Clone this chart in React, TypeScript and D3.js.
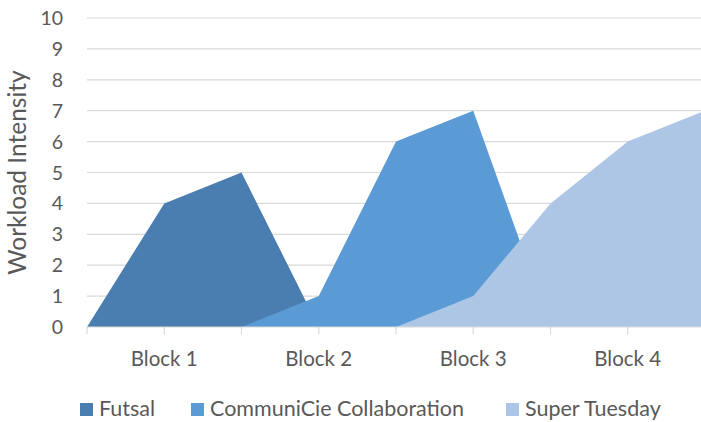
import React, { useRef, useEffect } from "react";
import * as d3 from "d3";

// x positions 0..8, block labels sit on the odd ones
const blocks = ["Block 1", "Block 2", "Block 3", "Block 4"];
const yTicks = [0, 1, 2, 3, 4, 5, 6, 7, 8, 9, 10];
const seriesNames = ["Futsal", "CommuniCie Collaboration", "Super Tuesday"];
const futsal = [0, 4, 5, 0, 0, 0, 0, 0, 0];
const communicie = [0, 0, 0, 1, 6, 7, 0, 0, 0];
const superTuesday = [0, 0, 0, 0, 0, 1, 4, 6, 7];
const colors = ["#4a7eb0", "#5b9bd5", "#adc6e6"];

const FONT = "Lato, 'Open Sans', sans-serif";

const App = () => {
  const svgRef = useRef<SVGSVGElement>(null);

  useEffect(() => {
    const width = 701;
    const height = 422;
    const svg = d3.select(svgRef.current).attr("width", width).attr("height", height);
    svg.selectAll("*").remove();

    const x = d3.scaleLinear().domain([0, 8]).range([87, 705]);
    const y = d3.scaleLinear().domain([0, 10]).range([327, 18]);

    // gridlines
    svg.append("g")
      .selectAll("line")
      .data(yTicks.filter((d) => d > 0))
      .enter()
      .append("line")
      .attr("x1", x(0))
      .attr("x2", width)
      .attr("y1", (d) => y(d))
      .attr("y2", (d) => y(d))
      .attr("stroke", "#d9d9d9")
      .attr("stroke-width", 1.2);

    // areas, drawn in order so later series sit on top
    const allSeries = [futsal, communicie, superTuesday];
    const area = d3.area<number>()
      .x((_, i) => x(i))
      .y0(y(0))
      .y1((d) => y(d));
    allSeries.forEach((s, i) => {
      svg.append("path").attr("d", area(s)).attr("fill", colors[i]);
    });

    // x axis line + ticks
    svg.append("line")
      .attr("x1", x(0)).attr("x2", width)
      .attr("y1", y(0)).attr("y2", y(0))
      .attr("stroke", "#d9d9d9").attr("stroke-width", 1.2);
    svg.append("g")
      .selectAll("line")
      .data(d3.range(0, 9))
      .enter()
      .append("line")
      .attr("x1", (d) => x(d)).attr("x2", (d) => x(d))
      .attr("y1", y(0)).attr("y2", y(0) + 7)
      .attr("stroke", "#d9d9d9").attr("stroke-width", 1.2);

    // y tick labels
    svg.append("g")
      .selectAll("text")
      .data(yTicks)
      .enter()
      .append("text")
      .attr("x", 63)
      .attr("y", (d) => y(d))
      .attr("dy", "0.36em")
      .attr("text-anchor", "end")
      .attr("font-family", FONT)
      .attr("font-size", 19.5)
      .attr("fill", "#595959")
      .text((d) => d);

    // x labels
    svg.append("g")
      .selectAll("text")
      .data(blocks)
      .enter()
      .append("text")
      .attr("x", (_, i) => x(i * 2 + 1))
      .attr("y", 366)
      .attr("text-anchor", "middle")
      .attr("font-family", FONT)
      .attr("font-size", 20.5)
      .attr("fill", "#595959")
      .text((d) => d);

    // y title
    svg.append("text")
      .attr("transform", `translate(26,${(y(0) + y(10)) / 2}) rotate(-90)`)
      .attr("text-anchor", "middle")
      .attr("font-family", FONT)
      .attr("font-size", 24.5)
      .attr("fill", "#595959")
      .text("Workload Intensity");

    // legend
    const legendX = [80, 191, 506];
    const lg = svg.append("g");
    seriesNames.forEach((name, i) => {
      lg.append("rect")
        .attr("x", legendX[i]).attr("y", 403)
        .attr("width", 13).attr("height", 13)
        .attr("fill", colors[i]);
      lg.append("text")
        .attr("x", legendX[i] + 19).attr("y", 416)
        .attr("font-family", FONT)
        .attr("font-size", 21.5)
        .attr("fill", "#595959")
        .text(name);
    });
  }, []);

  return <svg ref={svgRef} style={{ position: "absolute", left: 0, top: 0 }}></svg>;
};

export default App;
